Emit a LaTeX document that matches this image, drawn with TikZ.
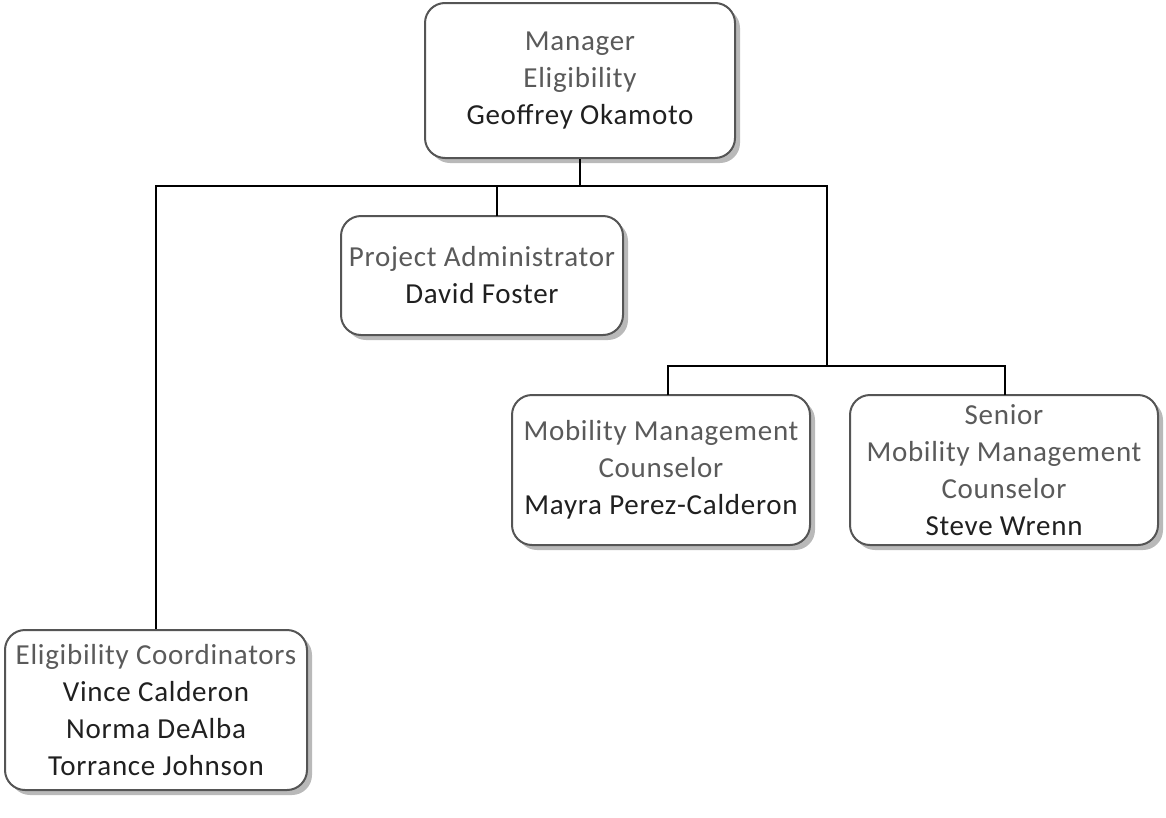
\documentclass[tikz,border=0pt]{standalone}
\usepackage{fontspec}
\setmainfont[LetterSpace=2.5]{Carlito}
\usetikzlibrary{shadows}
\definecolor{bordc}{HTML}{555555}
\definecolor{shadc}{HTML}{A8A8A8}
\definecolor{titc}{HTML}{5A5A5A}
\definecolor{namec}{HTML}{202020}
\tikzset{
  box/.style={draw=bordc, line width=2pt, rounded corners=20pt, fill=white,
    align=center, inner sep=0pt, font=\fontsize{29}{37}\selectfont,
    drop shadow={shadow xshift=5pt, shadow yshift=-5pt, fill=shadc, opacity=0.8}},
  conn/.style={draw=black, line width=2.2pt},
}
\newcommand{\ttl}[1]{{\color{titc}#1}}
\newcommand{\nm}[1]{{\color{namec}#1}}
\begin{document}
\begin{tikzpicture}[x=1pt,y=-1pt]
\useasboundingbox (0,0) rectangle (1166,817);
\coordinate (j) at (580,186);
\coordinate (paTop) at (497,216);
\coordinate (k) at (827,366);
\coordinate (mobTop) at (668,395);
\coordinate (senTop) at (1005,395);
\node[box, minimum width=310pt, minimum height=155pt] (mgr) at (580,80.5)
  {\ttl{Manager}\\ \ttl{Eligibility}\\ \nm{Geoffrey Okamoto}};
\node[box, minimum width=282pt, minimum height=119pt] (pa) at (482,275.5)
  {\ttl{Project Administrator}\\ \nm{David Foster}};
\node[box, minimum width=298pt, minimum height=150pt] (mob) at (661,470)
  {\ttl{Mobility Management}\\ \ttl{Counselor}\\ \nm{Mayra Perez-Calderon}};
\node[box, minimum width=308pt, minimum height=150pt] (sen) at (1004,470)
  {\ttl{Senior}\\ \ttl{Mobility Management}\\ \ttl{Counselor}\\ \nm{Steve Wrenn}};
\node[box, minimum width=302pt, minimum height=160pt] (elig) at (156,710)
  {\ttl{Eligibility Coordinators}\\ \nm{Vince Calderon}\\ \nm{Norma DeAlba}\\ \nm{Torrance Johnson}};
\draw[conn] (mgr.south) -- (j);
\draw[conn] (elig.north) |- (j);
\draw[conn] (paTop) |- (j);
\draw[conn] (j) -| (k);
\draw[conn] (mobTop) |- (k);
\draw[conn] (senTop) |- (k);
\end{tikzpicture}
\end{document}
